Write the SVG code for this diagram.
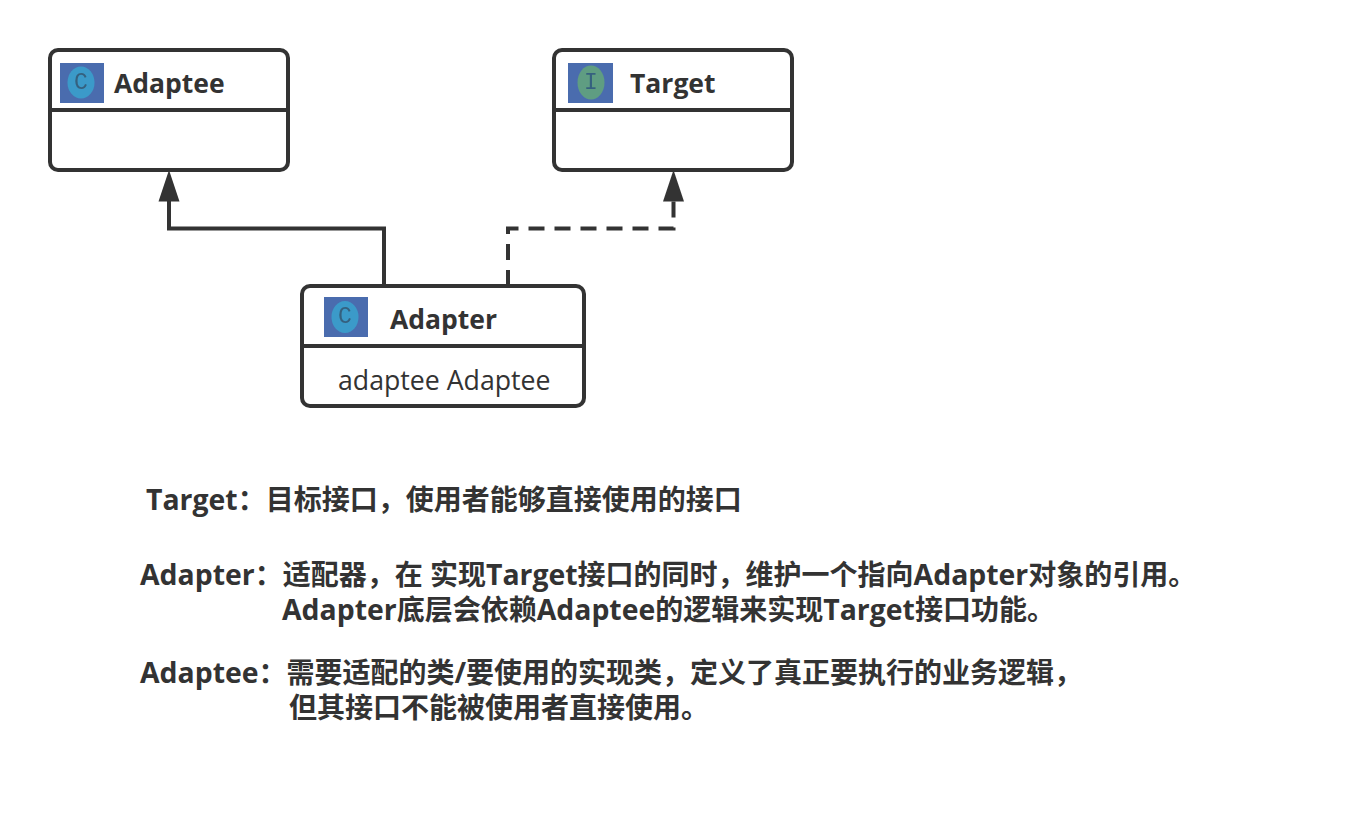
<svg xmlns="http://www.w3.org/2000/svg" width="1372" height="818" viewBox="0 0 1372 818">
<defs><filter id="soft" x="-20%" y="-20%" width="140%" height="140%"><feGaussianBlur stdDeviation="0.7"/></filter></defs>
<style>
.box{fill:#fff;stroke:#333;stroke-width:4}
.div{stroke:#333;stroke-width:4;fill:none}
.conn{stroke:#333;stroke-width:4;fill:none}
.head{fill:#333}
.t{font-family:"Open Sans","Noto Sans","Noto Sans CJK SC",sans-serif;fill:#333}
.name{font-size:26.500px;font-weight:700}
.note{font-family:"Open Sans","Noto Sans CJK SC",sans-serif;font-size:28px;font-weight:700;fill:#333}
.l{font-size:28.400px}
.ic{fill:#4a6cae}
.g{font-family:"Liberation Mono",monospace;font-size:23px;fill:#35617f;text-anchor:middle}
</style>
<rect width="1372" height="818" fill="#fff"/>
<g id="connectors">
<path class="conn" d="M384 286V228.500H169V198"/>
<polygon class="head" points="169,170 158.500,201.500 179.500,201.500"/>
<path class="conn" d="M508 286V228.500H673.500V198" stroke-dasharray="16 10"/>
<polygon class="head" points="673.500,170 663,201.500 684,201.500"/>
</g>
<g id="adaptee">
<rect class="box" x="50" y="50" width="238" height="120" rx="8"/>
<path class="div" d="M50 110H288"/>
<rect class="ic" x="60" y="63" width="44" height="40"/>
<g filter="url(#soft)"><ellipse cx="81" cy="82.500" rx="13.500" ry="16" fill="#3b9ac9"/>
<text class="g" x="81" y="89">C</text></g>
<text class="t name" x="114" y="93">Adaptee</text>
</g>
<g id="target">
<rect class="box" x="554" y="50" width="238" height="120" rx="8"/>
<path class="div" d="M554 110H792"/>
<rect class="ic" x="568" y="63" width="45" height="40"/>
<g filter="url(#soft)"><ellipse cx="591" cy="82.500" rx="13.500" ry="17" fill="#5f9d82"/>
<text class="g" x="591" y="89">I</text></g>
<text class="t name" x="630" y="93">Target</text>
</g>
<g id="adapter">
<rect class="box" x="302" y="286" width="282" height="120" rx="8"/>
<path class="div" d="M302 346H584"/>
<rect class="ic" x="324" y="297" width="44" height="40"/>
<g filter="url(#soft)"><ellipse cx="345" cy="317" rx="13.500" ry="16" fill="#3b9ac9"/>
<text class="g" x="345" y="323">C</text></g>
<text class="t name" x="390" y="329">Adapter</text>
<text class="t" x="338" y="390" font-size="26.700">adaptee Adaptee</text>
</g>
<g id="notes">
<text class="note" x="146" y="510"><tspan class="l">Target</tspan>：目标接口，使用者能够直接使用的接口</text>
<text class="note" x="140" y="584.500"><tspan class="l">Adapter</tspan>：适配器，在 实现<tspan class="l">Target</tspan>接口的同时，维护一个指向<tspan class="l">Adapter</tspan>对象的引用。</text>
<text class="note" x="282" y="619.500"><tspan class="l">Adapter</tspan>底层会依赖<tspan class="l">Adaptee</tspan>的逻辑来实现<tspan class="l">Target</tspan>接口功能。</text>
<text class="note" x="140" y="682.500"><tspan class="l">Adaptee</tspan>：需要适配的类/要使用的实现类，定义了真正要执行的业务逻辑，</text>
<text class="note" x="289" y="717.500">但其接口不能被使用者直接使用。</text>
</g>
</svg>
